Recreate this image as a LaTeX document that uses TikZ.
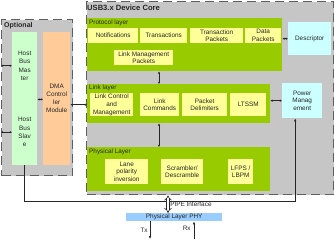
\documentclass[tikz,border=0pt]{standalone}
\usepackage{fontspec}
\setmainfont{Liberation Sans}
\usetikzlibrary{arrows.meta,positioning}

\definecolor{regiongray}{RGB}{198,198,198}
\definecolor{regionedge}{RGB}{95,95,95}
\definecolor{layergreen}{RGB}{153,204,0}
\definecolor{unityellow}{RGB}{255,255,153}
\definecolor{hostgreen}{RGB}{204,255,204}
\definecolor{dmaorange}{RGB}{255,204,153}
\definecolor{sidecyan}{RGB}{204,255,255}
\definecolor{phyblue}{RGB}{153,204,255}

\begin{document}
\begin{tikzpicture}[
  x=1pt,y=-1pt,
  region/.style={draw=regionedge, fill=regiongray, dash pattern=on 9pt off 5pt, line width=1.4pt, anchor=north west, inner sep=0pt},
  head/.style={font=\fontsize{7}{8}\selectfont\bfseries, text=black!85, anchor=west, inner sep=0pt},
  layer/.style={fill=layergreen, anchor=north west, inner sep=0pt},
  tag/.style={font=\fontsize{6.4}{7.6}\selectfont, text=black!85, anchor=west, inner sep=0pt},
  unit/.style={fill=unityellow, anchor=north west, inner sep=0pt, align=center, text=black!85, font=\fontsize{6.4}{7.8}\selectfont},
  hostbox/.style={unit, fill=hostgreen, minimum width=25, font=\fontsize{6.4}{8.3}\selectfont},
  sidebox/.style={unit, fill=sidecyan},
  dbl/.style={{Latex[length=2.2pt,width=2.4pt]}-{Latex[length=2.2pt,width=2.4pt]}, line width=0.6pt, black!85},
  feed/.style={-{Latex[length=3pt,width=2.6pt]}, line width=0.7pt, black!85},
  pipe/.style={{Implies[length=3.5pt,width=7pt]}-{Implies[length=3.5pt,width=7pt]}, double, double distance=2pt, line width=0.6pt, black!85}
]
  \useasboundingbox (0,0) rectangle (334,239);

  % regions
  \node[region, minimum width=71, minimum height=156] (optional) at (1,19) {};
  \node[head] (optlabel) at (4,26) {Optional};
  \node[region, minimum width=247, minimum height=193] (core) at (86,1) {};
  \node[head, font=\fontsize{7.6}{9}\selectfont\bfseries] (corelabel) at (87,8) {USB3.x Device Core};

  % optional blocks
  \node[hostbox, minimum height=67] (master) at (12,32) {Host\\Bus\\Mas\\ter};
  \node[hostbox, minimum height=66] (slave) at (12,99) {Host\\Bus\\Slav\\e};
  \node[unit, fill=dmaorange, minimum width=27, minimum height=133, font=\fontsize{6.4}{8}\selectfont] (dma) at (43,32) {DMA\\Control\\ler\\Module};

  % protocol layer
  \node[layer, minimum width=195, minimum height=53] (protocol) at (87,18) {};
  \node[tag] at (89,23) {Protocol layer};
  \node[unit, minimum width=50, minimum height=15] (notif) at (88,28) {Notifications};
  \node[unit, minimum width=47, minimum height=15] (trans) at (140,28) {Transactions};
  \node[unit, minimum width=53, minimum height=15] (tpack) at (190,28) {Transaction\\Packets};
  \node[unit, minimum width=36, minimum height=15] (dpack) at (245,28) {Data\\Packets};
  \node[unit, minimum width=59, minimum height=15] (lmp) at (114,50) {Link Management\\Packets};

  % link layer
  \node[layer, minimum width=183, minimum height=39] (link) at (87,84) {};
  \node[tag] at (89,88) {Link layer};
  \node[unit, minimum width=43, minimum height=23] (lcm) at (90,93) {Link Control\\and\\Management};
  \node[unit, minimum width=39, minimum height=23] (lcmd) at (140,93) {Link\\Commands};
  \node[unit, minimum width=45, minimum height=23] (pdel) at (182,93) {Packet\\Delimiters};
  \node[unit, minimum width=36, minimum height=23] (ltssm) at (230,93) {LTSSM};

  % physical layer
  \node[layer, minimum width=183, minimum height=44] (phys) at (87,147) {};
  \node[tag] at (89,152) {Physical Layer};
  \node[unit, minimum width=43, minimum height=25] (lane) at (105,159) {Lane\\polarity\\inversion};
  \node[unit, minimum width=42, minimum height=25] (scram) at (161,159) {Scrambler/\\Descramble};
  \node[unit, minimum width=25, minimum height=25] (lfps) at (228,159) {LFPS /\\LBPM};

  % side blocks
  \node[sidebox, minimum width=43, minimum height=33] (descr) at (288,22) {Descriptor};
  \node[sidebox, minimum width=40, minimum height=35] (power) at (282,83) {Power\\Manag\\ement};

  % PHY
  \node[unit, fill=phyblue, minimum width=96, minimum height=8] (phy) at (126,213) {Physical Layer PHY};

  \coordinate (stack) at (159,0);
  \coordinate (pipex) at (168,0);
  \coordinate (tx) at (150,239);
  \coordinate (rx) at (194,239);

  % connectors
  \draw[dbl] (optional.west |- master) -- (master.west);
  \draw[dbl] (optional.west |- slave) -- (slave.west);
  \draw[dbl] (master.south east) -- (dma.west |- master.south east);
  \draw[dbl] (dma.east |- lcm) -- (link.west |- lcm);
  \draw[dbl] (protocol.south -| stack) -- (link.north -| stack);
  \draw[dbl] (link.south -| stack) -- (phys.north -| stack);
  \draw[dbl] (protocol.east |- descr) -- (descr.west);
  \draw[dbl] (link.east |- power) -- (power.west);
  \draw[feed] (slave.south) -- ++(0,36) -| ([xshift=-7pt]power.south);
  \draw[pipe] (core.south -| pipex) -- node[tag, right=2pt, anchor=west] {PIPE Interface} (phy.north -| pipex);
  \draw[feed] (phy.south -| tx) -- node[tag, left=2pt, anchor=east] {Tx} (tx);
  \draw[feed] (rx) -- node[tag, left=3pt, anchor=east, pos=0.6] {Rx} (phy.south -| rx);
\end{tikzpicture}
\end{document}
